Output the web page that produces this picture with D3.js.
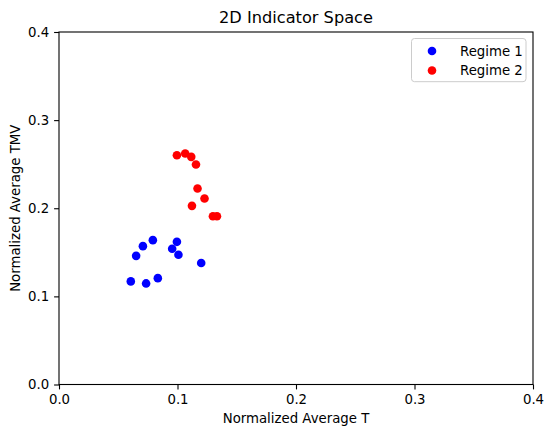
<!DOCTYPE html>
<html>
<head>
<meta charset="utf-8">
<script src="https://cdn.jsdelivr.net/npm/d3@7"></script>
<style>
  html, body { margin: 0; padding: 0; background: #fff; }
  svg { display: block; font-family: "DejaVu Sans", sans-serif; }
</style>
</head>
<body>
<svg id="chart" width="544" height="430"></svg>
<script>
// Regime 1 observations
const regime1T   = [0.0792, 0.0708, 0.0651, 0.0995, 0.0955, 0.1008, 0.1200, 0.0606, 0.0735, 0.0834];
const regime1TMV = [0.1638, 0.1570, 0.1460, 0.1619, 0.1540, 0.1472, 0.1378, 0.1170, 0.1147, 0.1207];
// Regime 2 observations
const regime2T   = [0.0995, 0.1065, 0.1116, 0.1156, 0.1169, 0.1228, 0.1122, 0.1299, 0.1333];
const regime2TMV = [0.2602, 0.2621, 0.2583, 0.2497, 0.2224, 0.2111, 0.2027, 0.1910, 0.1910];

const xTicks = [0.0, 0.1, 0.2, 0.3, 0.4];
const yTicks = [0.0, 0.1, 0.2, 0.3, 0.4];
const seriesNames = ["Regime 1", "Regime 2"];
const seriesColors = ["#0000ff", "#ff0000"];

const svg = d3.select("#chart");
const plotLeft = 59, plotRight = 533, plotTop = 32, plotBottom = 384.5;
const labelSize = 13.3;

const x = d3.scaleLinear().domain([0, 0.4]).range([plotLeft, plotRight]);
const y = d3.scaleLinear().domain([0, 0.4]).range([plotBottom, plotTop]);

// Points
const series = [
  regime1T.map((t, i) => ({ t, v: regime1TMV[i] })),
  regime2T.map((t, i) => ({ t, v: regime2TMV[i] }))
];
series.forEach((pts, k) => {
  svg.append("g").selectAll("circle").data(pts).join("circle")
    .attr("cx", d => x(d.t))
    .attr("cy", d => y(d.v))
    .attr("r", 4.3)
    .attr("fill", seriesColors[k]);
});

// Axes
const fmt = d3.format(".1f");
const xAxis = svg.append("g")
  .attr("transform", `translate(0,${plotBottom})`)
  .call(d3.axisBottom(x).tickValues(xTicks).tickFormat(fmt).tickSize(4.9).tickPadding(5.2));
const yAxis = svg.append("g")
  .attr("transform", `translate(${plotLeft},0)`)
  .call(d3.axisLeft(y).tickValues(yTicks).tickFormat(fmt).tickSize(4.9).tickPadding(4.9));
[xAxis, yAxis].forEach(a => {
  a.select(".domain").remove();
  a.selectAll("line").attr("stroke", "#000").attr("stroke-width", 1.1);
  a.selectAll("text").attr("font-family", "DejaVu Sans").attr("font-size", labelSize).attr("fill", "#000");
});

// Frame
svg.append("rect")
  .attr("x", plotLeft).attr("y", plotTop)
  .attr("width", plotRight - plotLeft).attr("height", plotBottom - plotTop)
  .attr("fill", "none").attr("stroke", "#000").attr("stroke-width", 1.1);

// Title and axis labels
svg.append("text")
  .attr("x", (plotLeft + plotRight) / 2).attr("y", 22.5)
  .attr("text-anchor", "middle").attr("font-size", 16.2)
  .text("2D Indicator Space");
svg.append("text")
  .attr("x", (plotLeft + plotRight) / 2).attr("y", 423)
  .attr("text-anchor", "middle").attr("font-size", labelSize)
  .text("Normalized Average T");
svg.append("text")
  .attr("transform", `translate(19.5,${(plotTop + plotBottom) / 2}) rotate(-90)`)
  .attr("text-anchor", "middle").attr("font-size", labelSize)
  .text("Normalized Average TMV");

// Legend
const legend = svg.append("g");
legend.append("rect")
  .attr("x", 411.5).attr("y", 38.5).attr("width", 114.5).attr("height", 43.2)
  .attr("rx", 3).attr("fill", "#fff").attr("fill-opacity", 0.8)
  .attr("stroke", "#cccccc").attr("stroke-width", 1);
seriesNames.forEach((name, i) => {
  const cy = 51 + i * 19.5;
  legend.append("circle").attr("cx", 432).attr("cy", cy).attr("r", 4.3).attr("fill", seriesColors[i]);
  legend.append("text").attr("x", 460).attr("y", cy + 4.8)
    .attr("font-size", labelSize).text(name);
});
</script>
</body>
</html>
